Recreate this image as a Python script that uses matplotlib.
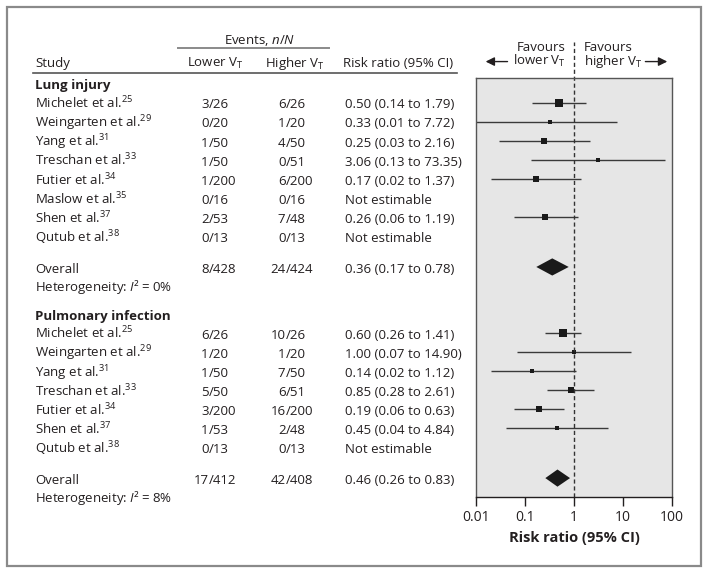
import matplotlib
matplotlib.use("Agg")
import numpy as np
import matplotlib.pyplot as plt
import matplotlib.transforms as mtransforms
from matplotlib.patches import Rectangle, Polygon

plt.rcParams['font.family'] = 'Open Sans'
plt.rcParams['mathtext.fontset'] = 'custom'
plt.rcParams['mathtext.rm'] = 'Open Sans'
plt.rcParams['mathtext.it'] = 'Open Sans:italic'
plt.rcParams['mathtext.bf'] = 'Open Sans:bold'

# --- data -------------------------------------------------------------
lung_studies = ["Michelet et al.", "Weingarten et al.", "Yang et al.", "Treschan et al.",
                "Futier et al.", "Maslow et al.", "Shen et al.", "Qutub et al."]
lung_refs = ["25", "29", "31", "33", "34", "35", "37", "38"]
lung_lower = ["3/26", "0/20", "1/50", "1/50", "1/200", "0/16", "2/53", "0/13"]
lung_higher = ["6/26", "1/20", "4/50", "0/51", "6/200", "0/16", "7/48", "0/13"]
lung_rr = [0.50, 0.33, 0.25, 3.06, 0.17, None, 0.26, None]
lung_lo = [0.14, 0.01, 0.03, 0.13, 0.02, None, 0.06, None]
lung_hi = [1.79, 7.72, 2.16, 73.35, 1.37, None, 1.19, None]
lung_weight = [33, 8, 13, 8, 13, None, 25, None]
lung_total = ("8/428", "24/424", 0.36, 0.17, 0.78, "0%")

pulm_studies = ["Michelet et al.", "Weingarten et al.", "Yang et al.", "Treschan et al.",
                "Futier et al.", "Shen et al.", "Qutub et al."]
pulm_refs = ["25", "29", "31", "33", "34", "37", "38"]
pulm_lower = ["6/26", "1/20", "1/50", "5/50", "3/200", "1/53", "0/13"]
pulm_higher = ["10/26", "1/20", "7/50", "6/51", "16/200", "2/48", "0/13"]
pulm_rr = [0.60, 1.00, 0.14, 0.85, 0.19, 0.45, None]
pulm_lo = [0.26, 0.07, 0.02, 0.28, 0.06, 0.04, None]
pulm_hi = [1.41, 14.90, 1.12, 2.61, 0.63, 4.84, None]
pulm_weight = [37, 7, 7, 22, 19, 7, None]
pulm_total = ("17/412", "42/408", 0.46, 0.26, 0.83, "8%")

ticks = [0.01, 0.1, 1, 10, 100]
tick_labels = ["0.01", "0.1", "1", "10", "100"]

# --- figure -----------------------------------------------------------
W, H = 709, 574
fig = plt.figure(figsize=(W / 100, H / 100), dpi=100)
fig.patches.append(Rectangle((7 / W, 1 - 566 / H), 694 / W, 559 / H, transform=fig.transFigure,
                             fill=False, edgecolor='#8a8a8a', linewidth=1.6))

ax = fig.add_axes([476 / W, 1 - 497 / H, 196 / W, 419 / H])
ax.set_facecolor('#e6e6e6')
ax.set_xscale('log')
ax.set_xlim(0.01, 100)
ax.set_ylim(21.64, -0.29)
ax.set_yticks([])
ax.set_xticks(ticks)
ax.set_xticklabels(tick_labels)
ax.minorticks_off()
ax.tick_params(axis='x', direction='out', length=6.5, width=1, labelsize=10, pad=3, colors='#231f20')
for s in ['left', 'right', 'top']:
    ax.spines[s].set_color('#555555')
    ax.spines[s].set_linewidth(1)
ax.spines['bottom'].set_color('#231f20')
ax.spines['bottom'].set_linewidth(1)
ax.set_xlabel('Risk ratio (95% CI)', fontsize=10.5, fontweight='bold', color='#231f20', labelpad=4)

tr = mtransforms.blended_transform_factory(fig.transFigure, ax.transData)
TXT = '#231f20'
FS = 9.5
BASE = 0.3   # baseline sits a little below the row centre
x_study = 35 / W
x_low = 208.5 / W
x_high = 285.5 / W
x_rr = 345 / W


def t(x, y, s, ha='left', **kw):
    ax.text(x, y + BASE, s, transform=tr, ha=ha, va='baseline', fontsize=FS, color=TXT, **kw)


def frac(x, y, s):
    num, den = s.split('/')
    t(x, y, num, ha='right')
    t(x, y, '/' + den, ha='left')


def section(y0, title, studies, refs, lower, higher, rr, lo, hi, weight, total):
    t(x_study, y0, title, fontweight='bold')
    for i in range(len(studies)):
        y = y0 + 1 + i
        t(x_study, y, studies[i] + '$^{' + refs[i] + '}$')
        frac(x_low, y, lower[i])
        frac(x_high, y, higher[i])
        if rr[i] is None:
            t(x_rr, y, 'Not estimable')
        else:
            t(x_rr, y, f"{rr[i]:.2f} ({lo[i]:.2f} to {hi[i]:.2f})")
            ax.plot([lo[i], hi[i]], [y, y], color='#3a3a3a', linewidth=1, solid_capstyle='butt')
            ax.plot(rr[i], y, marker='s', color='#1a1a1a',
                    markersize=1.0 * np.sqrt(weight[i]), markeredgewidth=0)
    yo = y0 + len(studies) + 1.6
    frac(x_low, yo, total[0])
    frac(x_high, yo, total[1])
    t(x_study, yo, 'Overall')
    t(x_rr, yo, f"{total[2]:.2f} ({total[3]:.2f} to {total[4]:.2f})")
    t(x_study, yo + 0.95, 'Heterogeneity: $I$\u00b2 = ' + total[5])
    h = 0.45
    ax.add_patch(Polygon([[total[3], yo], [total[2], yo - h], [total[4], yo], [total[2], yo + h]],
                         closed=True, facecolor='#1a1a1a', edgecolor='none'))
    return yo


yo = section(0, 'Lung injury', lung_studies, lung_refs, lung_lower, lung_higher,
             lung_rr, lung_lo, lung_hi, lung_weight, lung_total)
section(yo + 2.45, 'Pulmonary infection', pulm_studies, pulm_refs, pulm_lower, pulm_higher,
        pulm_rr, pulm_lo, pulm_hi, pulm_weight, pulm_total)

# headers
t(260 / W, -2.39, 'Events, $n$/$N$', ha='center')
ax.plot([178 / W, 329 / W], [-1.86, -1.86], transform=tr, color='#8a8a8a', linewidth=1.4, clip_on=False)
t(x_study, -1.18, 'Study')
t(215 / W, -1.18, 'Lower V$_\\mathrm{T}$', ha='center')
t(295 / W, -1.18, 'Higher V$_\\mathrm{T}$', ha='center')
t(343 / W, -1.18, 'Risk ratio (95% CI)')
ax.plot([33 / W, 457 / W], [-0.55, -0.55], transform=tr, color='#555555', linewidth=1.2, clip_on=False)

# null line
ax.plot([1, 1], [21.64, -2.2], color='#333333', linewidth=1, linestyle=(0, (3, 2)), clip_on=False)

# favours labels
tb = mtransforms.blended_transform_factory(ax.transAxes, ax.transData)
t(566 / W, -2.0, 'Favours', ha='right')
t(566 / W, -1.25, 'lower V$_\\mathrm{T}$', ha='right')
t(584 / W, -2.0, 'Favours')
t(584 / W, -1.25, 'higher V$_\\mathrm{T}$')
ax.annotate('', xy=(0.035, -1.15), xytext=(0.175, -1.15), xycoords=tb, textcoords=tb,
            arrowprops=dict(arrowstyle='-|>', color='#231f20', lw=1, mutation_scale=13))
ax.annotate('', xy=(0.99, -1.15), xytext=(0.85, -1.15), xycoords=tb, textcoords=tb,
            arrowprops=dict(arrowstyle='-|>', color='#231f20', lw=1, mutation_scale=13))

fig.savefig('out.png', dpi=100)
